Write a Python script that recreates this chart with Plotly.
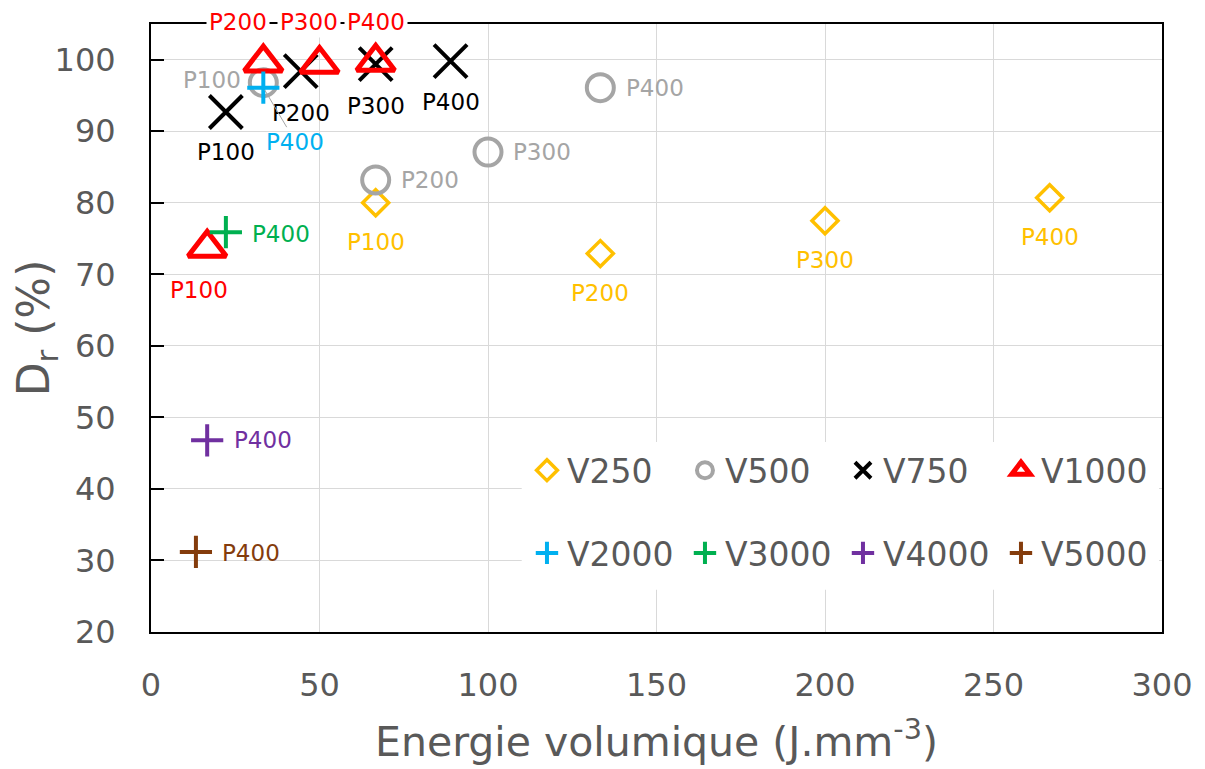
import plotly.graph_objects as go

# ---- data ----
series_names = ["V250", "V500", "V750", "V1000", "V2000", "V3000", "V4000", "V5000"]

e_v250 = [66.67, 133.33, 200.0, 266.67]
d_v250 = [80.0, 72.9, 77.5, 80.7]
l_v250 = ["P100", "P200", "P300", "P400"]

e_v500 = [33.33, 66.67, 100.0, 133.33]
d_v500 = [96.8, 83.2, 87.1, 96.1]
l_v500 = ["P100", "P200", "P300", "P400"]

e_v750 = [22.22, 44.44, 66.67, 88.89]
d_v750 = [92.7, 98.4, 99.4, 99.8]
l_v750 = ["P100", "P200", "P300", "P400"]

e_v1000 = [16.67, 33.33, 50.0, 66.67]
d_v1000 = [73.7, 99.6, 99.4, 99.7]
l_v1000 = ["P100", "P200", "P300", "P400"]

e_v2000 = [33.33]
d_v2000 = [96.1]
l_v2000 = ["P400"]

e_v3000 = [22.22]
d_v3000 = [75.9]
l_v3000 = ["P400"]

e_v4000 = [16.67]
d_v4000 = [46.8]
l_v4000 = ["P400"]

e_v5000 = [13.33]
d_v5000 = [31.2]
l_v5000 = ["P400"]

x_ticks = [0, 50, 100, 150, 200, 250, 300]
y_ticks = [20, 30, 40, 50, 60, 70, 80, 90, 100]

# ---- styles ----
GREY_TXT = "#595959"
FONT = "DejaVu Sans"

styles = {
    "V250": dict(color="#FFC000", symbol="diamond-open", size=20, lw=3.5),
    "V500": dict(color="#A5A5A5", symbol="circle-open", size=27, lw=4),
    "V750": dict(color="#000000", symbol="x-thin-open", size=33, lw=4),
    "V1000": dict(color="#FF0000", symbol="triangle-up-open", size=33, lw=5),
    "V2000": dict(color="#00B0F0", symbol="cross-thin-open", size=23, lw=4),
    "V3000": dict(color="#00B050", symbol="cross-thin-open", size=23, lw=4),
    "V4000": dict(color="#7030A0", symbol="cross-thin-open", size=23, lw=4),
    "V5000": dict(color="#843C0C", symbol="cross-thin-open", size=23, lw=4),
}

data = {
    "V250": (e_v250, d_v250, l_v250),
    "V500": (e_v500, d_v500, l_v500),
    "V750": (e_v750, d_v750, l_v750),
    "V1000": (e_v1000, d_v1000, l_v1000),
    "V2000": (e_v2000, d_v2000, l_v2000),
    "V3000": (e_v3000, d_v3000, l_v3000),
    "V4000": (e_v4000, d_v4000, l_v4000),
    "V5000": (e_v5000, d_v5000, l_v5000),
}

# label offsets in pixels (xshift, yshift, mode)
label_pos = {
    "V250": [(0, -39, "c")] * 4,
    "V500": [(-51, 3, "c"), (54, 0, "c"), (54, 0, "c"), (55, 0, "c")],
    "V750": [(0, -40, "c"), (0, -42, "c"), (0, -42, "c"), (0, -41, "c")],
    "V1000": [(-8, -42, "c"), (-25, 0, "top"), (-11, 0, "top"), (0, 0, "top")],
    "V2000": [(32, 54, "leader")],
    "V3000": [(55, -2, "c")],
    "V4000": [(56, 0, "c")],
    "V5000": [(55, -1, "c")],
}

fig = go.Figure()

for i, name in enumerate(series_names):
    xs, ys, labs = data[name]
    st = styles[name]
    fig.add_trace(go.Scatter(
        x=xs, y=ys, mode="markers", name=name,
        marker=dict(symbol=st["symbol"], size=st["size"], color=st["color"],
                    line=dict(color=st["color"], width=st["lw"])),
        legend="legend" if i < 4 else "legend2",
        cliponaxis=False,
    ))
    for j, (xv, yv, lab) in enumerate(zip(xs, ys, labs)):
        dx, dy, mode = label_pos[name][j]
        lab_font = dict(family=FONT, size=23, color=st["color"])
        if mode == "top":
            fig.add_annotation(
                x=xv, xref="x", y=1.0, yref="paper", yanchor="middle",
                text=lab, showarrow=False, xshift=dx, yshift=2,
                font=lab_font, bgcolor="white", borderpad=2,
            )
        elif mode == "leader":
            fig.add_annotation(
                x=xv, y=yv, text=lab, showarrow=True, ax=dx, ay=dy,
                arrowhead=0, arrowwidth=1, arrowcolor="#A6A6A6",
                standoff=3, font=lab_font,
            )
        else:
            fig.add_annotation(
                x=xv, y=yv, text=lab, showarrow=False, xshift=dx, yshift=dy,
                font=lab_font,
            )

# white background behind the legend block (between grid and markers)
fig.add_shape(type="rect", xref="x", yref="y",
              x0=110, x1=297.5, y0=25.9, y1=46.2,
              fillcolor="white", line=dict(width=0), layer="between")

legend_common = dict(
    orientation="h", xanchor="right", yanchor="middle", x=0.997,
    bgcolor="white", borderwidth=0,
    font=dict(family=FONT, size=33, color=GREY_TXT),
    entrywidth=113, entrywidthmode="pixels", itemwidth=30,
    traceorder="normal",
)

# the page body has an 8px margin, so the figure is made 8px smaller
fig.update_layout(
    width=1197, height=761,
    margin=dict(l=140, r=42, t=16, b=137),
    paper_bgcolor="white", plot_bgcolor="white",
    showlegend=True,
    legend=dict(legend_common, y=0.266),
    legend2=dict(legend_common, y=0.13),
    xaxis=dict(
        range=[0, 300], tickvals=x_ticks, ticks="",
        showgrid=True, gridcolor="#D9D9D9", gridwidth=1,
        showline=True, linecolor="black", linewidth=2, mirror=True,
        zeroline=False,
        tickfont=dict(family=FONT, size=32, color=GREY_TXT),
        ticklabelstandoff=24,
        title=dict(text="Energie volumique (J.mm<sup>-3</sup>)",
                   font=dict(family=FONT, size=41, color=GREY_TXT),
                   standoff=24),
    ),
    yaxis=dict(
        range=[20, 105], tickvals=y_ticks,
        ticks="inside", ticklen=13, tickwidth=2, tickcolor="black",
        showgrid=True, gridcolor="#D9D9D9", gridwidth=1,
        showline=True, linecolor="black", linewidth=2, mirror=True,
        zeroline=False,
        tickfont=dict(family=FONT, size=32, color=GREY_TXT),
        ticklabelstandoff=27,
        title=dict(text="D<sub>r</sub> (%)",
                   font=dict(family=FONT, size=44, color=GREY_TXT),
                   standoff=4),
    ),
)

fig.write_html("out.html")
